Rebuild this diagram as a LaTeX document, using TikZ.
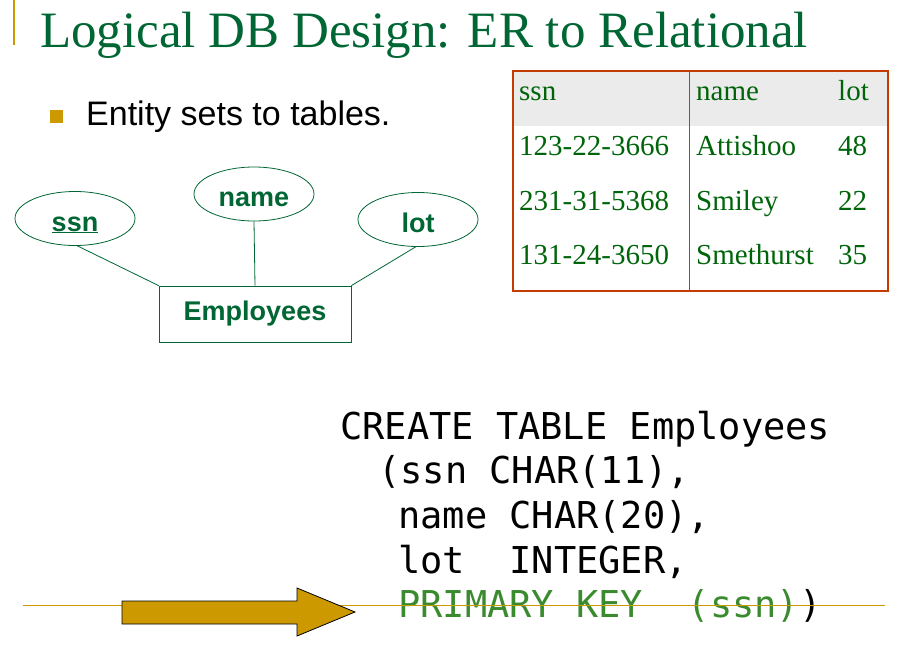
\documentclass[tikz,border=0pt]{standalone}
\usepackage{fontspec}
\setmainfont{Liberation Serif}
\setsansfont{Liberation Sans}
\setmonofont{DejaVu Sans Mono}
\usetikzlibrary{shapes.geometric,positioning}
\definecolor{slidegreen}{RGB}{0,102,51}
\definecolor{cellgreen}{RGB}{0,100,10}
\definecolor{codegreen}{RGB}{58,138,46}
\definecolor{gold}{RGB}{204,153,0}
\definecolor{tabred}{RGB}{196,60,0}
\definecolor{headgray}{RGB}{235,235,235}

\begin{document}
\begin{tikzpicture}[x=1pt,y=-1pt,
attr/.style={ellipse,draw=slidegreen,line width=0.8pt,minimum width=120pt,minimum height=54pt,
  inner sep=0pt,text height=25pt,text depth=0pt,text=slidegreen,font=\sffamily\bfseries\fontsize{27}{27}\selectfont},
ent/.style={rectangle,draw=slidegreen,line width=0.8pt,minimum width=192pt,minimum height=56pt,
  text=slidegreen,font=\sffamily\bfseries\fontsize{27}{27}\selectfont},
cell/.style={anchor=base west,inner sep=0pt,text=cellgreen,font=\fontsize{29}{29}\selectfont},
code/.style={anchor=base west,inner sep=0pt,font=\ttfamily\fontsize{37}{37}\selectfont}]
\useasboundingbox (0,0) rectangle (897,649);

% title and bullet
\draw[gold,line width=2pt] (14,0) -- (14,45);
\node[anchor=base west,inner sep=0pt,text=slidegreen,font=\fontsize{51}{51}\selectfont] (title) at (40,47) {Logical DB Design: ER to Relational};
\node[fill=gold,minimum size=13pt,inner sep=0pt] (bullet) at (56.5,116.5) {};
\node[anchor=base west,inner sep=0pt,font=\sffamily\fontsize{34}{34}\selectfont] (intro) at (86,125) {Entity sets to tables.};

% ER diagram
\node[attr] (ssn) at (75,218.5) {\underline{ssn}};
\node[attr] (name) at (254,194) {name};
\node[attr] (lot) at (418,219.5) {lot};
\node[ent] (emp) at (255,314) {Employees};
\draw[slidegreen,line width=0.8pt] (ssn.-85) -- (emp.north west);
\draw[slidegreen,line width=0.8pt] (name.south) -- (emp.north);
\draw[slidegreen,line width=0.8pt] (lot.-95) -- (emp.north east);

% table
\fill[headgray] (513,71) rectangle (888,126);
\draw[tabred,line width=1.5pt] (513,71) rectangle (888,291);
\draw[tabred,line width=1pt] (689,71) -- (689,291);
\foreach \y/\a/\b/\c in {100/ssn/name/lot,155/123-22-3666/Attishoo/48,
  210/231-31-5368/Smiley/22,264/131-24-3650/Smethurst/35}{
  \node[cell] (ssn-\y) at (519,\y) {\a};
  \node[cell] (name-\y) at (696,\y) {\b};
  \node[cell] (lot-\y) at (838,\y) {\c};
}

% SQL
\node[code] (sql1) at (340,439) {CREATE TABLE Employees};
\node[code] (sql2) at (378,483) {(ssn CHAR(11),};
\node[code] (sql3) at (398,528) {name CHAR(20),};
\node[code] (sql4) at (398,573) {lot\ \ INTEGER,};
\node[code] (sql5) at (398,617) {\textcolor{codegreen}{PRIMARY KEY\ \ (ssn)})};
\draw[gold,line width=1.5pt] (23,605.5) -- (885,605.5);
\filldraw[fill=gold,draw=black,line width=0.8pt] (122,601) -- (297,601) -- (297,588) -- (355,612)
  -- (297,636) -- (297,624) -- (122,624) -- cycle;
\end{tikzpicture}
\end{document}
